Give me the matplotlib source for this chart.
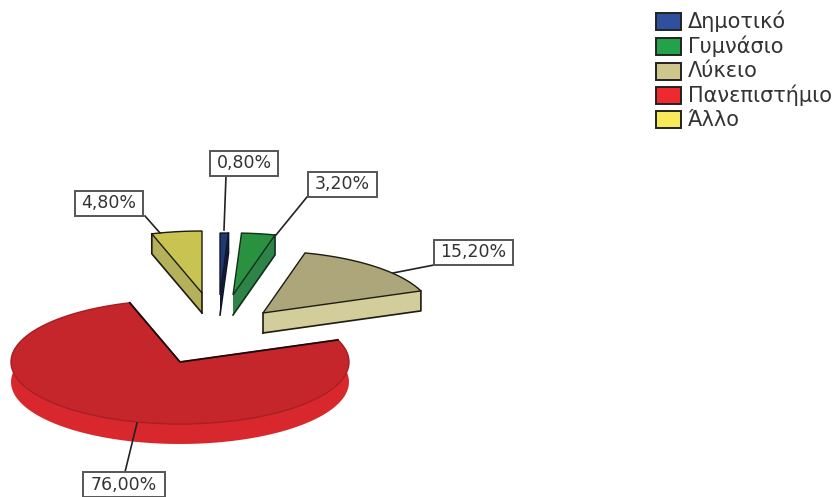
# -*- coding: utf-8 -*-
import numpy as np
import matplotlib.pyplot as plt
from matplotlib.patches import Polygon, Rectangle

plt.rcParams['font.family'] = ['DejaVu Sans']

categories = ["Δημοτικό", "Γυμνάσιο", "Λύκειο", "Πανεπιστήμιο", "Άλλο"]
percent = [0.80, 3.20, 15.20, 76.00, 4.80]
percent_labels = ["0,80%", "3,20%", "15,20%", "76,00%", "4,80%"]

# colours per slice
legend_cols = ["#2f4f9f", "#22a34a", "#cfc68c", "#ee2a30", "#f7e95a"]
top_cols = ["#1f3a72", "#2a9140", "#aca67a", "#c4262c", "#c9c452"]
side_cols = ["#141d3d", "#2e8448", "#d3cd9c", "#d8282d", "#b5b15a"]
edge_cols = ["#101428", "#10301a", "#1c1c10", "#a81e23", "#1c1c10"]

# layout, everything in pixels of the 837x497 picture
apex_x = [220, 233, 263, 180, 202]
apex_y = [295, 295, 313, 362, 293]
rx, ry, depth = 169, 62, 20

box_x = [244, 342.5, 473.5, 124, 109]
box_y = [163.5, 184, 252, 484.5, 203.5]
box_w = [68, 69, 79, 82, 68]
leader_from = [(226, 176), (307, 197), (434, 265), (125, 472), (145, 216)]
leader_to = [(224, 230), (276, 235), (393, 273), (137, 423), (160, 233)]

legend_y = [21, 46, 71, 95.5, 119.5]

fig = plt.figure(figsize=(8.37, 4.97), dpi=100)
ax = fig.add_axes([0, 0, 1, 1])
ax.set_xlim(0, 837)
ax.set_ylim(497, 0)
ax.axis("off")

stops = np.concatenate([[0], np.cumsum(percent)]) / 100 * 2 * np.pi


def outline(i):
    t = np.linspace(stops[i], stops[i + 1], 120)
    x = apex_x[i] + rx * np.sin(t)
    y = apex_y[i] - ry * np.cos(t)
    return x, y


for i in range(len(percent)):
    x, y = outline(i)
    cx, cy = apex_x[i], apex_y[i]
    # extruded body first: the rim as one band, then the two cut faces
    band = np.column_stack([np.concatenate([x, x[::-1]]),
                            np.concatenate([y, y[::-1] + depth])])
    ax.add_patch(Polygon(band, closed=True, fc=side_cols[i], ec="none"))
    for k in [0, -1]:
        quad = [(cx, cy), (x[k], y[k]), (x[k], y[k] + depth), (cx, cy + depth)]
        ax.add_patch(Polygon(quad, closed=True, fc=side_cols[i], ec="none"))
    # dark rim around the side, not on the big red slice
    if i == 2:
        ax.plot([cx, x[-1], x[-1]], [cy + depth, y[-1] + depth, y[-1]], color=edge_cols[i], lw=1.2)
        ax.plot([cx, cx], [cy, cy + depth], color=edge_cols[i], lw=1.2)
    elif i == 4:
        ax.plot([cx, x[0], x[0]], [cy + depth, y[0] + depth, y[0]], color=edge_cols[i], lw=1.2)
        ax.plot([cx, cx], [cy, cy + depth], color=edge_cols[i], lw=1.2)
    elif i != 3:
        ax.plot([cx, x[-1], x[-1]], [cy + depth, y[-1] + depth, y[-1]], color=edge_cols[i], lw=1.2)
    top = np.column_stack([np.concatenate([[cx], x]), np.concatenate([[cy], y])])
    ax.add_patch(Polygon(top, closed=True, fc=top_cols[i], ec=edge_cols[i], lw=1.0, zorder=3))
    if i == 3:
        ax.plot([x[0], cx, x[-1]], [y[0], cy, y[-1]], color="#1c0a0a", lw=1.3, zorder=4)

for i in range(len(percent)):
    ax.plot([leader_from[i][0], leader_to[i][0]], [leader_from[i][1], leader_to[i][1]],
            color="#222222", lw=1.2, zorder=5)
    ax.add_patch(Rectangle((box_x[i] - box_w[i] / 2, box_y[i] - 12.5), box_w[i], 25,
                           fc="white", ec="#555555", lw=1.4, zorder=6))
    ax.text(box_x[i], box_y[i], percent_labels[i], ha="center", va="center",
            fontsize=12.5, color="#333333", zorder=7)

for i in range(len(categories)):
    ax.add_patch(Rectangle((656.5, legend_y[i] - 8.5), 25, 17, fc=legend_cols[i],
                           ec="#222222", lw=1.4))
    ax.text(688, legend_y[i], categories[i], ha="left", va="center",
            fontsize=15, color="#333333")

fig.savefig("out.png", dpi=100)
